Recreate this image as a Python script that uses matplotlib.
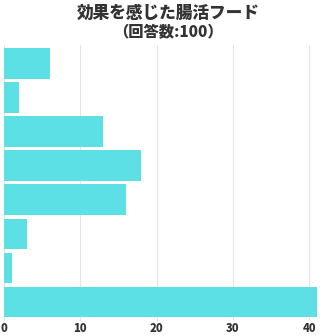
import matplotlib.pyplot as plt
import numpy as np

plt.rcParams['font.family'] = ['Noto Sans CJK JP', 'DejaVu Sans']

# bars from top to bottom
foods = ['A', 'B', 'C', 'D', 'E', 'F', 'G', 'H']
counts = [6, 2, 13, 18, 16, 3, 1, 41]
xticks = [0, 10, 20, 30, 40]

fig = plt.figure(figsize=(3.36, 3.36), dpi=100)
ax = fig.add_axes([0.012, 0.045, 0.94, 0.822])

y = np.arange(len(foods))
ax.barh(y, counts, height=0.9, color='#5ce0e6', zorder=2)
ax.set_ylim(len(foods) - 0.45, -0.55)
ax.set_xlim(0, 41.4)
ax.set_yticks([])
ax.set_xticks(xticks)
ax.set_xticklabels([str(t) for t in xticks], fontsize=8, fontweight='heavy', color='#333333')
ax.tick_params(axis='x', length=0, pad=1)
ax.grid(axis='x', color='#e4e4e4', linewidth=0.8, zorder=0)
for s in ax.spines.values():
    s.set_visible(False)

fig.text(0.5, 0.963, '効果を感じた腸活フード', ha='center', va='center',
         fontsize=12, fontweight='heavy', color='#333333')
fig.text(0.5, 0.905, '（回答数:100）', ha='center', va='center',
         fontsize=11, fontweight='heavy', color='#333333')

fig.savefig('out.png', dpi=100)
